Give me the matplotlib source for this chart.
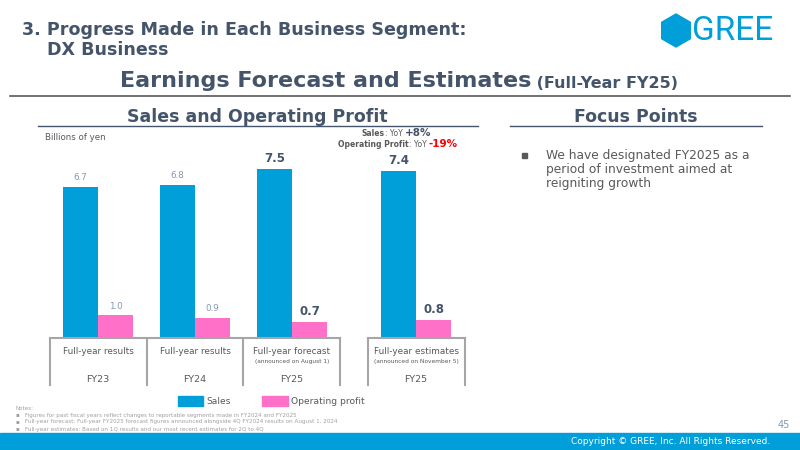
import numpy as np
import matplotlib.pyplot as plt
from matplotlib.patches import Rectangle, RegularPolygon, Patch

# chart data
segments = ['Full-year results', 'Full-year results', 'Full-year forecast', 'Full-year estimates']
segment_notes = ['', '', '(announced on August 1)', '(announced on November 5)']
fiscal_years = ['FY23', 'FY24', 'FY25', 'FY25']
sales = [6.7, 6.8, 7.5, 7.4]
op_profit = [1.0, 0.9, 0.7, 0.8]
is_current = [False, False, True, True]
group_pos = [0, 1, 2, 3.28]

notes = [
    'Figures for past fiscal years reflect changes to reportable segments made in FY2024 and FY2025',
    'Full-year forecast: Full-year FY2025 forecast figures announced alongside 4Q FY2024 results on August 1, 2024',
    'Full-year estimates: Based on 1Q results and our most recent estimates for 2Q to 4Q',
]
focus_text = 'We have designated FY2025 as a\nperiod of investment aimed at\nreigniting growth'

BLUE = '#009FDA'
PINK = '#FF70C8'
DARK = '#44546A'
GRAY = '#595959'
LIGHT = '#8497B0'
LINE = '#A6A6A6'

plt.rcParams['font.family'] = 'DejaVu Sans'
fig = plt.figure(figsize=(8, 4.5), dpi=100)

# page decoration in pixel coordinates
page = fig.add_axes([0, 0, 1, 1])
page.set_xlim(0, 800)
page.set_ylim(450, 0)
page.axis('off')

page.text(22, 30, '3. Progress Made in Each Business Segment:', fontsize=12.6, fontweight='bold',
          color=DARK, va='center')
page.text(47, 50, 'DX Business', fontsize=12.6, fontweight='bold', color=DARK, va='center')

t1 = page.text(120, 87, 'Earnings Forecast and Estimates', fontsize=16, fontweight='bold',
               color=DARK, va='baseline')
page.annotate(' (Full-Year FY25)', xy=(1, 0), xycoords=t1, fontsize=11.5, fontweight='bold',
              color=DARK, va='bottom')
page.plot([10, 790], [96, 96], color=GRAY, lw=1.2)

# logo
page.add_patch(RegularPolygon((676, 30.5), 6, radius=16.5, color=BLUE))
page.text(692, 30.5, 'GREE', fontsize=24, color=BLUE, va='center', family='Roboto')

# section headings
page.text(257, 117, 'Sales and Operating Profit', fontsize=12.5, fontweight='bold',
          color=DARK, ha='center', va='center')
page.plot([38, 478], [126, 126], color=DARK, lw=1)
page.text(636, 117, 'Focus Points', fontsize=12.5, fontweight='bold',
          color=DARK, ha='center', va='center')
page.plot([510, 762], [126, 126], color=DARK, lw=1)

page.text(45, 137, 'Billions of yen', fontsize=6.2, color=GRAY, va='center')

s1 = page.text(362, 136, 'Sales', fontsize=5.5, fontweight='bold', color=GRAY, va='baseline')
s2 = page.annotate(': YoY ', xy=(1, 0), xycoords=s1, fontsize=5.5, color=GRAY, va='bottom')
page.annotate('+8%', xy=(1, 0), xycoords=s2, fontsize=7.5, fontweight='bold', color=DARK, va='bottom')
o1 = page.text(338, 147, 'Operating Profit', fontsize=5.5, fontweight='bold', color=GRAY, va='baseline')
o2 = page.annotate(': YoY ', xy=(1, 0), xycoords=o1, fontsize=5.5, color=GRAY, va='bottom')
page.annotate('-19%', xy=(1, 0), xycoords=o2, fontsize=7.5, fontweight='bold', color='#FF0000', va='bottom')

# focus point bullet
page.add_patch(Rectangle((522, 153), 5, 5, color=GRAY))
page.text(546, 148.5, focus_text, fontsize=8.8, color=GRAY, va='top', linespacing=1.15)

# notes
page.text(15, 408, 'Notes:', fontsize=4.1, color='#A0A0A0', va='center')
for i, note in enumerate(notes):
    page.text(16, 415 + 7 * i, '\u25aa', fontsize=4, color='#A0A0A0', va='center')
    page.text(25, 415 + 7 * i, note, fontsize=4.1, color='#A0A0A0', va='center')

page.text(790, 425, '45', fontsize=7, color=LIGHT, ha='right', va='center')
page.add_patch(Rectangle((0, 433), 800, 17, color=BLUE))
page.text(770, 442, 'Copyright \u00a9 GREE, Inc. All Rights Reserved.', fontsize=6.5,
          color='white', ha='right', va='center')

# bar chart
ax = fig.add_axes([50 / 800, 1 - 338 / 450, 416 / 800, 208 / 450])
x = np.array(group_pos)
w = 0.36
sales_bars = ax.bar(x - w / 2, sales, w, color=BLUE, label='Sales')
op_bars = ax.bar(x + w / 2, op_profit, w, color=PINK, label='Operating profit')
ax.set_xlim(-0.495, 3.794)
ax.set_ylim(0, 9.24)
ax.axis('off')

for bars, vals in [(sales_bars, sales), (op_bars, op_profit)]:
    for bar, v, cur in zip(bars, vals, is_current):
        if cur:
            ax.annotate(f'{v:.1f}', (bar.get_x() + w / 2, v), xytext=(0, 3), textcoords='offset points',
                        ha='center', va='bottom', fontsize=8.5, fontweight='bold', color=DARK)
        else:
            ax.annotate(f'{v:.1f}', (bar.get_x() + w / 2, v), xytext=(0, 3.5), textcoords='offset points',
                        ha='center', va='bottom', fontsize=6.3, color=LIGHT)

# category boxes under the bars
tr = ax.get_xaxis_transform()
box_bottom = -47 / 208
ax.plot([-0.5, 2.5], [0, 0], color=LINE, lw=1.5, transform=tr, clip_on=False)
ax.plot([2.78, 3.78], [0, 0], color=LINE, lw=1.5, transform=tr, clip_on=False)
for xe in [-0.5, 0.5, 1.5, 2.5, 2.78, 3.78]:
    ax.plot([xe, xe], [0, box_bottom], color=LINE, lw=1.5, transform=tr, clip_on=False)

for xp, seg, note, fy in zip(x, segments, segment_notes, fiscal_years):
    ax.text(xp, -14 / 208, seg, fontsize=6.4, color=GRAY, ha='center', va='center', transform=tr)
    if note:
        ax.text(xp, -23 / 208, note, fontsize=4.2, color=GRAY, ha='center', va='center', transform=tr)
    ax.text(xp, -42 / 208, fy, fontsize=6.8, color=GRAY, ha='center', va='center', transform=tr)

fig.legend(handles=[Patch(color=BLUE, label='Sales'), Patch(color=PINK, label='Operating profit')],
           loc='center', bbox_to_anchor=(271 / 800, 1 - 401 / 450), ncol=2, frameon=False,
           fontsize=6.6, handlelength=2.8, handleheight=1.3, columnspacing=3.5, handletextpad=0.3,
           labelcolor=GRAY)

fig.savefig('out.png', dpi=100)
